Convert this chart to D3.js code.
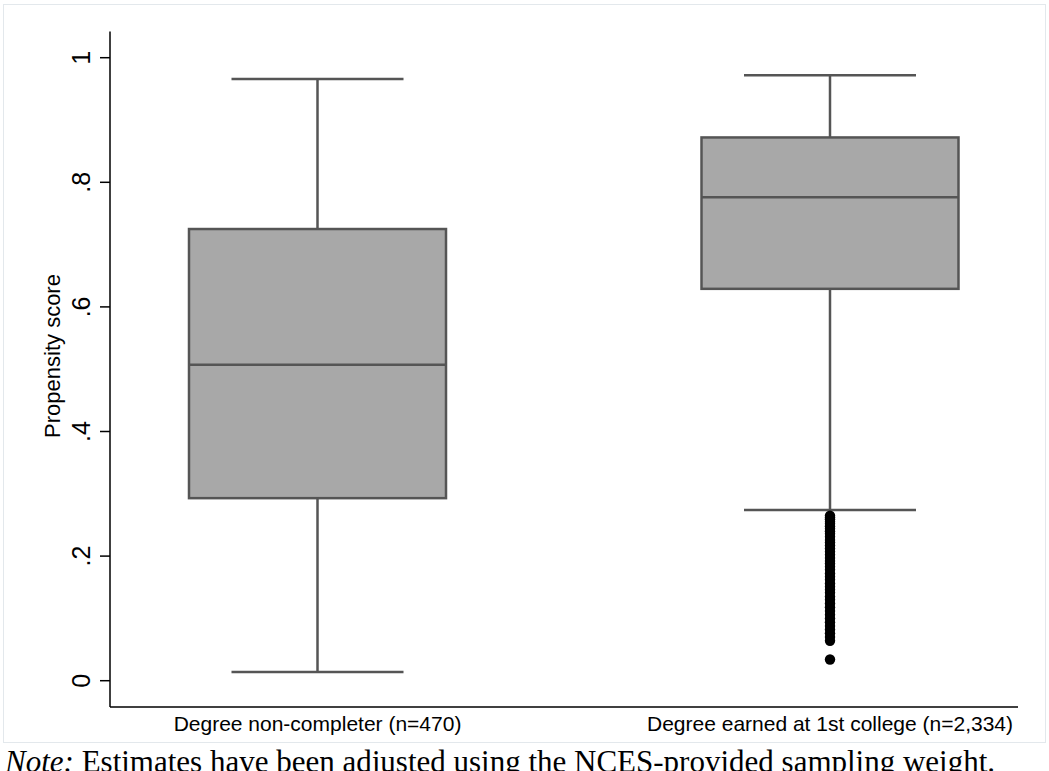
<!DOCTYPE html>
<html>
<head>
<meta charset="utf-8">
<script src="https://cdn.jsdelivr.net/npm/d3@7"></script>
<style>
  html, body { margin: 0; padding: 0; background: #fff; }
  svg { display: block; }
</style>
</head>
<body>
<svg id="chart" width="1049" height="771"></svg>
<script>
// ---- data ----
const categories = ["Degree non-completer (n=470)", "Degree earned at 1st college (n=2,334)"];
const lowerWhisker = [0.014, 0.274];
const q1Values = [0.293, 0.629];
const medianValues = [0.507, 0.776];
const q3Values = [0.725, 0.872];
const upperWhisker = [0.966, 0.972];
const outliersGroup2 = [0.265, 0.262, 0.259, 0.255, 0.252, 0.248, 0.244, 0.240, 0.236, 0.231, 0.226, 0.222,
  0.217, 0.212, 0.207, 0.202, 0.197, 0.192, 0.188, 0.183, 0.178, 0.172, 0.167, 0.162, 0.156, 0.151,
  0.146, 0.141, 0.135, 0.130, 0.124, 0.118, 0.112, 0.106, 0.100, 0.094, 0.088, 0.082, 0.076, 0.070, 0.064, 0.034];
const yTicks = [0, 0.2, 0.4, 0.6, 0.8, 1];
const yTickLabels = ["0", ".2", ".4", ".6", ".8", "1"];
const yTitle = "Propensity score";
const noteLabel = "Note:";
const noteText = " Estimates have been adjusted using the NCES-provided sampling weight.";

// ---- layout ----
const svg = d3.select("#chart");
const axisX = 110;
const plotRight = 1018;
const y = d3.scaleLinear().domain([0, 1]).range([680.7, 57.7]);
const x = d3.scalePoint().domain(categories).range([317.5, 830]);
const boxW = 257, capW = 172;
const cx = c => x(c);
const sans = "Liberation Sans, Arial, Helvetica, sans-serif";

// faint outer border of graph region
svg.append("rect").attr("x", 3.5).attr("y", 4.5).attr("width", 1042).attr("height", 738)
  .attr("fill", "none").attr("stroke", "#e3e8ec").attr("stroke-width", 1);

// y axis
svg.append("line").attr("x1", axisX).attr("x2", axisX).attr("y1", 31.5).attr("y2", 707)
  .attr("stroke", "#000").attr("stroke-width", 1.5);
// x axis line
svg.append("line").attr("x1", axisX).attr("x2", plotRight).attr("y1", 707).attr("y2", 707)
  .attr("stroke", "#000").attr("stroke-width", 1.5);

const ticks = svg.append("g");
yTicks.forEach((t, i) => {
  ticks.append("line").attr("x1", axisX - 10).attr("x2", axisX).attr("y1", y(t)).attr("y2", y(t))
    .attr("stroke", "#000").attr("stroke-width", 1.5);
  ticks.append("text")
    .attr("transform", `translate(90,${y(t)}) rotate(-90)`)
    .attr("text-anchor", "middle")
    .attr("font-family", sans)
    .attr("font-size", 25)
    .attr("fill", "#000")
    .text(yTickLabels[i]);
});

svg.append("text")
  .attr("transform", `translate(60,356) rotate(-90)`)
  .attr("text-anchor", "middle")
  .attr("font-family", sans)
  .attr("font-size", 22)
  .attr("fill", "#000")
  .text(yTitle);

// boxes
const stroke = "#555555";
categories.forEach((c, i) => {
  const g = svg.append("g");
  const c0 = cx(c);
  g.append("line").attr("x1", c0).attr("x2", c0).attr("y1", y(upperWhisker[i])).attr("y2", y(q3Values[i]))
    .attr("stroke", stroke).attr("stroke-width", 2.5);
  g.append("line").attr("x1", c0).attr("x2", c0).attr("y1", y(q1Values[i])).attr("y2", y(lowerWhisker[i]))
    .attr("stroke", stroke).attr("stroke-width", 2.5);
  g.append("line").attr("x1", c0 - capW / 2).attr("x2", c0 + capW / 2)
    .attr("y1", y(upperWhisker[i])).attr("y2", y(upperWhisker[i]))
    .attr("stroke", stroke).attr("stroke-width", 2.5);
  g.append("line").attr("x1", c0 - capW / 2).attr("x2", c0 + capW / 2)
    .attr("y1", y(lowerWhisker[i])).attr("y2", y(lowerWhisker[i]))
    .attr("stroke", stroke).attr("stroke-width", 2.5);
  g.append("rect").attr("x", c0 - boxW / 2).attr("y", y(q3Values[i]))
    .attr("width", boxW).attr("height", y(q1Values[i]) - y(q3Values[i]))
    .attr("fill", "#a8a8a8").attr("stroke", stroke).attr("stroke-width", 2.5);
  g.append("line").attr("x1", c0 - boxW / 2).attr("x2", c0 + boxW / 2)
    .attr("y1", y(medianValues[i])).attr("y2", y(medianValues[i]))
    .attr("stroke", stroke).attr("stroke-width", 2.5);
  svg.append("text").attr("x", c0).attr("y", 731)
    .attr("text-anchor", "middle")
    .attr("font-family", sans)
    .attr("font-size", 21)
    .attr("fill", "#000")
    .text(c);
});

// outliers
svg.append("g").selectAll("circle").data(outliersGroup2).join("circle")
  .attr("cx", cx(categories[1])).attr("cy", d => y(d)).attr("r", 5.2)
  .attr("fill", "#000");

// note
const note = svg.append("text").attr("x", 5).attr("y", 772)
  .attr("font-family", "Liberation Serif, Times New Roman, serif")
  .attr("font-size", 31).attr("fill", "#000");
note.append("tspan").attr("font-style", "italic").text(noteLabel);
note.append("tspan").text(noteText);
</script>
</body>
</html>
